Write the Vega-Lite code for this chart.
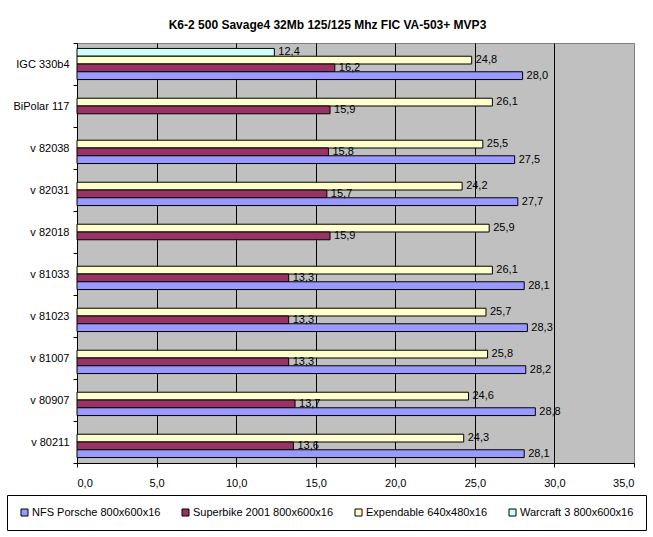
{
  "$schema": "https://vega.github.io/schema/vega-lite/v6.json",
  "autosize": {"type": "none"},
  "padding": {"left": 77, "top": 43, "right": 19, "bottom": 74},
  "width": 557,
  "height": 420,
  "background": "white",
  "title": {
    "text": "K6-2 500 Savage4 32Mb 125/125 Mhz FIC VA-503+ MVP3",
    "font": "Liberation Sans",
    "fontSize": 12,
    "fontWeight": "bold",
    "color": "black",
    "anchor": "middle",
    "dx": -28,
    "offset": 5
  },
  "config": {
    "font": "Liberation Sans",
    "view": {"fill": "#C0C0C0", "stroke": "#808080", "strokeWidth": 1},
    "axis": {"labelFont": "Liberation Sans", "labelFontSize": 11, "labelColor": "black", "domainColor": "black", "tickColor": "black"}
  },
  "data": {
    "values": [
      {"cat": "IGC 330b4", "series": "Warcraft 3 800x600x16", "value": 12.4},
      {"cat": "IGC 330b4", "series": "Expendable 640x480x16", "value": 24.8},
      {"cat": "IGC 330b4", "series": "Superbike 2001 800x600x16", "value": 16.2},
      {"cat": "IGC 330b4", "series": "NFS Porsche 800x600x16", "value": 28.0},
      {"cat": "BiPolar 117", "series": "Expendable 640x480x16", "value": 26.1},
      {"cat": "BiPolar 117", "series": "Superbike 2001 800x600x16", "value": 15.9},
      {"cat": "v 82038", "series": "Expendable 640x480x16", "value": 25.5},
      {"cat": "v 82038", "series": "Superbike 2001 800x600x16", "value": 15.8},
      {"cat": "v 82038", "series": "NFS Porsche 800x600x16", "value": 27.5},
      {"cat": "v 82031", "series": "Expendable 640x480x16", "value": 24.2},
      {"cat": "v 82031", "series": "Superbike 2001 800x600x16", "value": 15.7},
      {"cat": "v 82031", "series": "NFS Porsche 800x600x16", "value": 27.7},
      {"cat": "v 82018", "series": "Expendable 640x480x16", "value": 25.9},
      {"cat": "v 82018", "series": "Superbike 2001 800x600x16", "value": 15.9},
      {"cat": "v 81033", "series": "Expendable 640x480x16", "value": 26.1},
      {"cat": "v 81033", "series": "Superbike 2001 800x600x16", "value": 13.3},
      {"cat": "v 81033", "series": "NFS Porsche 800x600x16", "value": 28.1},
      {"cat": "v 81023", "series": "Expendable 640x480x16", "value": 25.7},
      {"cat": "v 81023", "series": "Superbike 2001 800x600x16", "value": 13.3},
      {"cat": "v 81023", "series": "NFS Porsche 800x600x16", "value": 28.3},
      {"cat": "v 81007", "series": "Expendable 640x480x16", "value": 25.8},
      {"cat": "v 81007", "series": "Superbike 2001 800x600x16", "value": 13.3},
      {"cat": "v 81007", "series": "NFS Porsche 800x600x16", "value": 28.2},
      {"cat": "v 80907", "series": "Expendable 640x480x16", "value": 24.6},
      {"cat": "v 80907", "series": "Superbike 2001 800x600x16", "value": 13.7},
      {"cat": "v 80907", "series": "NFS Porsche 800x600x16", "value": 28.8},
      {"cat": "v 80211", "series": "Expendable 640x480x16", "value": 24.3},
      {"cat": "v 80211", "series": "Superbike 2001 800x600x16", "value": 13.6},
      {"cat": "v 80211", "series": "NFS Porsche 800x600x16", "value": 28.1}
    ]
  },
  "encoding": {
    "y": {
      "field": "cat", "type": "nominal", "title": null,
      "sort": ["IGC 330b4", "BiPolar 117", "v 82038", "v 82031", "v 82018", "v 81033", "v 81023", "v 81007", "v 80907", "v 80211"],
      "scale": {"paddingInner": 0, "paddingOuter": 0},
      "axis": {"tickSize": 4, "labelPadding": 4, "domainColor": "black", "ticks": true, "tickBand": "extent"}
    },
    "yOffset": {
      "field": "series", "type": "nominal",
      "sort": ["Warcraft 3 800x600x16", "Expendable 640x480x16", "Superbike 2001 800x600x16", "NFS Porsche 800x600x16"],
      "scale": {"paddingInner": 0, "paddingOuter": 0.7}
    },
    "x": {
      "field": "value", "type": "quantitative", "title": null,
      "scale": {"domain": [0, 35], "nice": false},
      "axis": {
        "values": [0, 5, 10, 15, 20, 25, 30, 35],
        "labelExpr": "replace(format(datum.value, '.1f'), '.', ',')",
        "grid": true,
        "gridColor": {"condition": {"test": "datum.value >= 35 || datum.value <= 0", "value": "#808080"}, "value": "black"},
        "gridOpacity": 1,
        "tickSize": 4,
        "labelPadding": 10,
        "labelFontSize": 11
      }
    }
  },
  "layer": [
    {
      "mark": {"type": "bar", "stroke": "black", "strokeWidth": 1},
      "encoding": {
        "color": {
          "field": "series", "type": "nominal",
          "scale": {
            "domain": ["NFS Porsche 800x600x16", "Superbike 2001 800x600x16", "Expendable 640x480x16", "Warcraft 3 800x600x16"],
            "range": ["#9999FF", "#993366", "#FFFFCC", "#CCFFFF"]
          },
          "legend": {
            "title": null,
            "orient": "none",
            "legendX": -70,
            "legendY": 452,
            "direction": "horizontal",
            "columns": 4,
            "columnPadding": 19,
            "padding": 12,
            "strokeColor": "black",
            "fillColor": "white",
            "symbolType": "square",
            "symbolSize": 49,
            "symbolStrokeColor": "black",
            "symbolStrokeWidth": 1,
            "symbolOpacity": 1,
            "labelFont": "Liberation Sans",
            "labelFontSize": 11,
            "labelColor": "black",
            "labelOffset": 2
          }
        }
      }
    },
    {
      "mark": {"type": "text", "align": "left", "baseline": "middle", "dx": 4, "font": "Liberation Sans", "fontSize": 11, "color": "black",
        "text": {"expr": "replace(format(datum.value, '.1f'), '.', ',')"}},
      "encoding": {}
    }
  ]
}
